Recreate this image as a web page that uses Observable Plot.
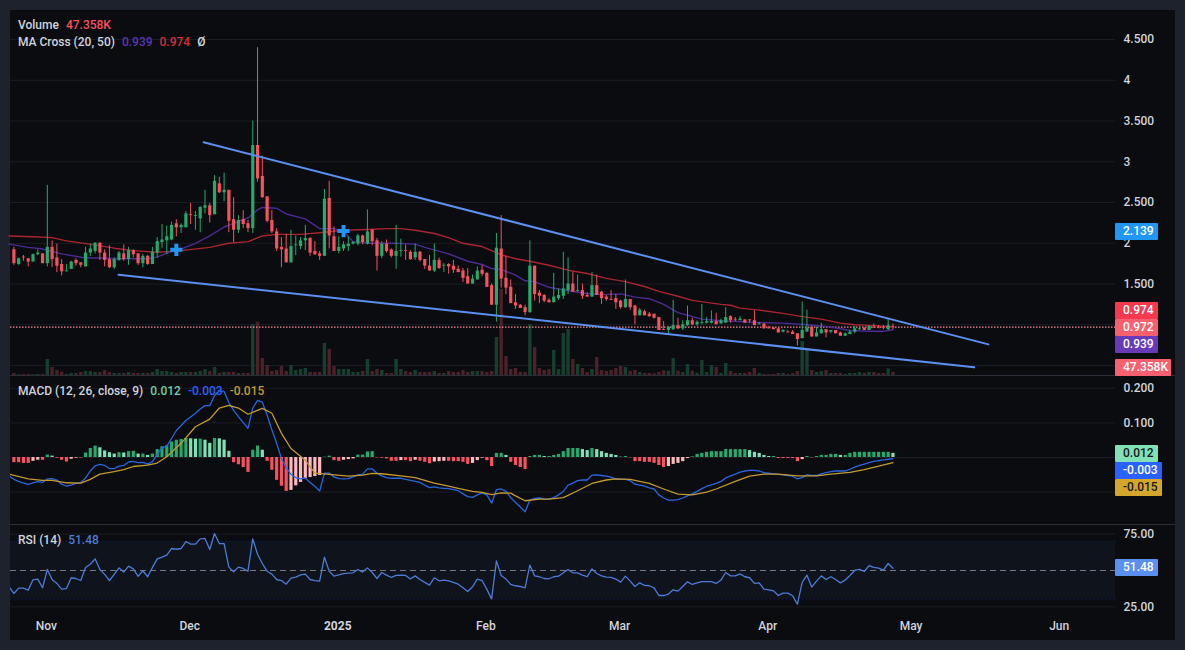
<!DOCTYPE html>
<html><head><meta charset="utf-8">
<script src="https://cdn.jsdelivr.net/npm/d3@7"></script>
<script src="https://cdn.jsdelivr.net/npm/@observablehq/plot@0.6"></script>
<style>
html,body{margin:0;padding:0;background:#1e222d;overflow:hidden}
#stage{position:absolute;left:0;top:0;width:1185px;height:650px;background:#1e222d;font-family:Roboto,"Noto Sans",sans-serif}
#inner{position:absolute;left:10px;top:10px;width:1165px;height:630px;background:#0a0c0f}
.sep{position:absolute;left:10px;width:1165px;height:1px;background:#2a2e39}
.leg{position:absolute;left:18px;font-size:12px;line-height:14px;color:#d1d4dc;white-space:pre;font-weight:500}
.pill{position:absolute;left:1115px;height:17px;line-height:17px;font-size:12px;font-weight:500;padding-left:8px;box-sizing:border-box;border-radius:1px}
</style></head><body>
<div id="stage"><div id="inner"></div></div>
<script>
// one candle per day, index 0 = 25 Oct 2024
const opens=[1.92,1.74,1.83,1.81,1.77,1.86,1.87,1.75,1.95,1.82,
1.74,1.65,1.68,1.79,1.76,1.71,1.88,1.90,2.00,1.88,
1.80,1.70,1.79,1.87,1.80,1.91,1.87,1.75,1.84,1.74,
1.88,2.01,2.03,2.04,2.24,2.19,2.19,2.35,2.33,2.30,
2.43,2.46,2.35,2.73,2.62,2.65,2.29,2.16,2.29,2.24,
2.18,3.20,2.82,2.57,2.28,2.14,1.95,1.93,1.76,1.97,
1.96,2.03,2.06,1.90,1.87,1.84,2.55,2.08,1.90,1.93,
1.96,1.99,1.99,2.09,1.99,2.16,2.03,1.84,1.99,1.92,
1.84,1.90,1.91,1.89,1.82,1.89,1.80,1.72,1.66,1.79,
1.72,1.74,1.72,1.68,1.66,1.59,1.50,1.55,1.67,1.63,
1.48,1.24,1.93,1.57,1.46,1.27,1.24,1.21,1.15,1.72,
1.39,1.36,1.30,1.27,1.32,1.35,1.42,1.50,1.41,1.42,
1.36,1.34,1.48,1.40,1.34,1.31,1.32,1.29,1.21,1.31,
1.23,1.11,1.16,1.13,1.13,1.09,0.94,0.93,0.94,0.99,
0.95,0.99,1.05,1.00,1.02,1.02,1.02,1.04,1.01,1.02,
1.10,1.06,1.05,1.06,1.06,1.05,1.00,1.01,0.96,0.96,
0.95,0.91,0.91,0.91,0.89,0.83,0.91,0.97,0.85,0.89,
0.94,0.91,0.93,0.90,0.86,0.88,0.91,0.94,0.96,0.93,
0.97,0.97,0.97,0.94,0.98];
const closes=[1.75,1.81,1.82,1.77,1.86,1.88,1.75,1.95,1.80,1.72,
1.65,1.66,1.77,1.75,1.73,1.88,1.93,2.00,1.88,1.79,
1.70,1.80,1.88,1.80,1.91,1.86,1.75,1.84,1.74,1.89,
2.02,2.04,2.08,2.22,2.19,2.22,2.36,2.34,2.34,2.44,
2.46,2.34,2.76,2.62,2.65,2.27,2.16,2.28,2.23,2.18,
3.20,2.79,2.56,2.27,2.14,1.93,1.92,1.76,1.96,1.98,
2.03,2.06,1.88,1.86,1.84,2.54,2.09,1.90,1.95,1.98,
1.99,2.01,2.09,2.01,2.14,2.02,1.84,1.99,1.90,1.84,
1.90,1.91,1.90,1.80,1.89,1.79,1.72,1.66,1.79,1.69,
1.73,1.71,1.67,1.64,1.57,1.50,1.56,1.66,1.62,1.46,
1.24,1.94,1.56,1.45,1.26,1.23,1.20,1.15,1.72,1.37,
1.35,1.29,1.27,1.34,1.36,1.44,1.50,1.40,1.42,1.35,
1.34,1.48,1.36,1.32,1.31,1.30,1.27,1.21,1.31,1.21,
1.11,1.18,1.11,1.10,1.08,0.93,0.93,0.97,0.99,0.95,
1.00,1.05,1.00,1.03,1.03,1.04,1.04,1.00,1.05,1.09,
1.05,1.05,1.07,1.02,1.05,0.99,1.01,0.95,0.95,0.94,
0.90,0.93,0.90,0.88,0.82,0.93,0.96,0.85,0.90,0.94,
0.90,0.93,0.89,0.86,0.89,0.91,0.95,0.95,0.93,0.98,
0.96,0.96,0.96,0.99,0.972];
const highs=[1.95,1.82,1.85,1.81,1.87,1.92,1.87,2.71,2.03,1.99,
1.80,1.74,1.78,1.81,1.76,1.95,1.99,2.01,2.01,1.92,
1.97,1.82,1.90,1.98,1.95,1.92,1.87,1.86,1.85,1.95,
2.07,2.23,2.21,2.26,2.29,2.24,2.39,2.49,2.39,2.45,
2.65,2.49,2.83,2.81,2.86,2.65,2.56,2.34,2.40,2.28,
3.50,4.40,3.07,2.57,2.40,2.18,2.07,2.11,2.16,2.09,
2.07,2.22,2.07,2.02,1.90,2.66,2.76,2.20,2.08,2.02,
2.08,2.02,2.11,2.10,2.41,2.17,2.06,2.02,2.04,1.93,
2.22,2.05,1.98,1.91,1.99,1.90,1.80,1.85,1.99,1.82,
1.75,1.75,1.79,1.72,1.69,1.69,1.61,1.71,1.73,1.64,
1.50,2.12,2.34,1.84,1.55,1.37,1.25,1.24,2.03,1.72,
1.42,1.37,1.32,1.63,1.44,1.89,1.82,1.64,1.61,1.50,
1.39,1.64,1.61,1.41,1.36,1.42,1.37,1.30,1.55,1.31,
1.24,1.20,1.18,1.15,1.13,1.09,1.04,0.98,1.30,1.08,
1.05,1.23,1.08,1.05,1.25,1.09,1.17,1.14,1.07,1.21,
1.11,1.09,1.10,1.06,1.06,1.17,1.03,1.01,0.98,0.96,
0.96,0.94,0.93,0.93,0.89,1.28,1.18,0.98,0.97,1.02,
0.94,0.93,0.93,0.91,0.90,0.93,0.98,0.98,0.96,0.99,
1.01,0.99,0.99,1.08,1.01];
const lows=[1.73,1.73,1.78,1.71,1.77,1.85,1.75,1.71,1.70,1.64,
1.60,1.65,1.68,1.72,1.70,1.71,1.84,1.87,1.79,1.71,
1.69,1.68,1.78,1.78,1.73,1.82,1.73,1.70,1.73,1.74,
1.82,1.94,1.86,2.03,2.08,2.12,2.19,2.23,2.16,2.13,
2.36,2.25,2.35,2.61,2.51,2.13,2.01,2.12,2.18,2.13,
2.12,2.75,2.55,2.25,2.12,1.90,1.70,1.76,1.76,1.85,
1.92,1.91,1.84,1.85,1.79,1.84,1.93,1.90,1.87,1.90,
1.90,1.98,1.97,1.98,1.98,1.97,1.66,1.81,1.88,1.82,
1.68,1.83,1.79,1.79,1.79,1.77,1.68,1.66,1.64,1.68,
1.64,1.62,1.63,1.64,1.52,1.50,1.50,1.55,1.59,1.46,
1.24,1.03,1.45,1.37,1.26,1.19,1.20,1.11,1.14,1.29,
1.26,1.27,1.27,1.27,1.30,1.31,1.37,1.40,1.40,1.31,
1.34,1.34,1.36,1.25,1.29,1.30,1.19,1.19,1.20,1.18,
1.00,1.11,1.11,1.09,1.07,0.93,0.93,0.87,0.93,0.94,
0.93,0.98,0.99,0.98,1.00,1.01,1.01,1.00,1.01,1.02,
1.02,1.04,1.05,1.02,1.02,0.99,1.00,0.95,0.95,0.94,
0.90,0.90,0.90,0.88,0.74,0.83,0.91,0.85,0.85,0.89,
0.84,0.89,0.89,0.86,0.86,0.88,0.89,0.93,0.93,0.93,
0.96,0.95,0.94,0.93,0.94];
// volume in thousands
const volumes=[29,10,14,14,10,14,14,229,114,72,48,14,29,29,43,57,57,43,43,72,43,29,29,29,43,29,29,29,29,43,
86,57,57,43,29,43,43,43,43,57,86,57,114,29,43,43,43,29,29,29,730,763,243,143,57,72,129,57,143,72,
86,100,43,43,43,458,372,129,86,86,86,43,43,57,229,57,86,72,29,29,229,86,57,43,72,43,43,43,57,29,
29,57,43,43,72,43,57,57,57,43,57,544,1230,272,86,100,43,43,730,401,100,72,86,358,86,601,658,229,157,100,
43,86,258,72,57,72,100,129,114,57,72,43,29,29,24,43,67,62,243,62,43,157,62,33,215,43,143,114,29,172,
57,29,29,29,43,100,29,14,14,14,29,29,14,29,57,487,382,72,43,57,72,29,29,29,14,29,29,43,29,43,
43,29,29,95,47.358];
// moving averages read at sampled days
const ma50Days=[-1,4,8,11,17,21,25,30,35,41,45,49,52,55,60,64,69,74,78,81,84,88,91,94,98,100,102,105,108,112,116,120,124,128,132,135,139,142,148,150,152,156,161,165,169,173,176,180,184];
const ma50=[2.09,2.08,2.07,2.03,1.98,1.94,1.91,1.89,1.91,1.95,2.00,2.02,2.09,2.11,2.11,2.13,2.16,2.17,2.18,2.18,2.16,2.12,2.07,2.00,1.96,1.91,1.86,1.81,1.78,1.73,1.67,1.63,1.57,1.53,1.47,1.41,1.35,1.30,1.25,1.24,1.205,1.18,1.14,1.10,1.07,1.02,1.00,0.99,0.974];
const ma20Days=[-1,3,6,10,15,18,22,25,28,30,32,35,38,41,44,47,49,51,52,55,57,61,64,67,69,71,74,77,80,84,86,91,95,98,100,102,105,107,109,112,114,119,123,127,130,133,136,139,144,148,155,161,166,170,175,179,182,184];
const ma20=[1.99,1.95,1.93,1.87,1.82,1.82,1.81,1.81,1.81,1.83,1.88,1.93,2.00,2.09,2.20,2.27,2.31,2.41,2.44,2.43,2.36,2.30,2.18,2.18,2.15,2.02,2.00,2.00,2.00,1.99,1.95,1.87,1.78,1.74,1.69,1.68,1.61,1.54,1.53,1.46,1.44,1.39,1.37,1.38,1.34,1.32,1.25,1.15,1.07,1.05,1.03,1.02,1.00,0.98,0.93,0.92,0.92,0.939];
// falling wedge trend lines and MA crosses
const upperDays=[39.7,204], upperPrices=[3.24,0.76];
const lowerDays=[21.9,201], lowerPrices=[1.615,0.478];
const crossDays=[34,69], crossPrices=[1.92,2.15];
// MACD
const macdHist=[-.015,-.015,-.017,-.017,-.011,-.008,-.008,.007,.004,-.002,-.008,-.013,-.005,-.002,-.001,.013,.026,.033,.028,.019,
.014,.010,.014,.013,.017,.018,.010,.010,.006,.010,.023,.031,.034,.045,.050,.052,.055,.054,.053,.053,
.050,.041,.055,.054,.050,.018,-.015,-.021,-.029,-.043,.021,.033,.021,-.011,-.037,-.066,-.083,-.098,-.095,-.082,
-.072,-.062,-.058,-.055,-.052,.001,.004,-.009,-.011,-.008,-.006,-.004,.007,.007,.016,.017,-.001,-.002,-.004,-.011,
-.011,-.009,-.009,-.012,-.008,-.011,-.014,-.018,-.013,-.012,-.011,-.011,-.012,-.012,-.014,-.020,-.017,-.009,-.002,-.009,
-.026,.012,.012,.006,-.014,-.023,-.029,-.035,.003,.006,.006,.003,.003,.006,.009,.017,.026,.026,.026,.023,
.020,.026,.023,.017,.012,.009,.006,.001,.003,-.001,-.012,-.012,-.014,-.014,-.017,-.023,-.029,-.026,-.020,-.017,
-.012,-.003,.002,.009,.012,.015,.017,.017,.017,.023,.023,.023,.023,.023,.020,.015,.012,.006,.003,.003,
-.003,-.003,-.003,-.003,-.012,-.006,.003,-.001,.003,.006,.006,.009,.009,.006,.006,.012,.015,.015,.015,.015,
.015,.015,.015,.015,.012];
const macdStart=-1;
const macdLine=[-.054,-.063,-.069,-.074,-.078,-.073,-.070,-.072,-.062,-.061,-.065,-.077,-.083,-.080,-.075,-.073,-.059,-.039,-.024,-.020,
-.023,-.032,-.032,-.025,-.023,-.013,-.011,-.015,-.014,-.019,-.012,.008,.028,.033,.055,.078,.092,.107,.117,.128,
.140,.150,.150,.179,.193,.191,.159,.136,.118,.101,.084,.143,.165,.160,.123,.080,.041,-.003,-.029,-.049,
-.058,-.062,-.059,-.072,-.083,-.097,-.045,-.045,-.056,-.061,-.062,-.061,-.056,-.050,-.048,-.033,-.033,-.045,-.053,-.058,
-.060,-.060,-.060,-.063,-.066,-.069,-.072,-.080,-.087,-.085,-.088,-.089,-.090,
-.093,-.096,-.105,-.113,-.115,-.108,-.102,-.108,-.132,-.093,-.091,-.098,-.116,-.130,-.143,-.157,-.123,-.118,-.117,-.120,
-.120,-.116,-.108,-.098,-.080,-.074,-.067,-.065,-.065,-.051,-.050,-.052,-.054,-.057,-.062,-.063,-.063,-.067,-.077,-.080,
-.083,-.088,-.091,-.108,-.117,-.123,-.123,-.122,-.117,-.111,-.105,-.098,-.090,-.083,-.079,-.075,-.069,-.059,-.053,-.048,
-.042,-.039,-.037,-.037,-.039,-.044,-.045,-.047,-.049,-.050,-.052,-.054,-.062,-.058,-.050,-.052,-.052,-.047,-.044,-.041,
-.039,-.039,-.039,-.034,-.028,-.023,-.019,-.015,-.011,-.009,-.007,-.005,-.003];
const signalDays=[-1,3,6,8,11,14,16,18,21,23,25,28,30,32,35,38,41,43,45,47,49,52,54,56,58,61,63,66,70,73,75,77,81,84,88,91,93,96,98,100,102,104,105,107,110,112,115,118,121,124,126,129,133,136,139,142,145,147,151,154,157,160,164,168,171,175,178,181,184];
const signalLine=[-.048,-.062,-.066,-.066,-.073,-.074,-.063,-.048,-.041,-.035,-.026,-.022,-.016,.002,.041,.089,.111,.143,.151,.143,.125,.142,.128,.070,.026,-.008,-.045,-.049,-.054,-.051,-.046,-.047,-.053,-.058,-.074,-.083,-.089,-.098,-.101,-.107,-.102,-.103,-.111,-.125,-.120,-.120,-.116,-.096,-.075,-.065,-.062,-.063,-.075,-.091,-.106,-.108,-.100,-.091,-.069,-.054,-.048,-.048,-.053,-.053,-.048,-.043,-.035,-.025,-.015];
// RSI
const rsiStart=-1;
const rsi=[38.8,34.2,37.9,37.9,36.5,43.6,44.1,38.1,50.7,43.8,41.1,37.2,37.6,45.0,44.5,43.1,52.1,54.3,58.0,50.7,47.3,43.1,47.3,51.8,48.9,53.0,51.1,45.9,49.8,45.7,52.1,58.0,59.2,60.5,65.1,64.6,65.1,69.9,68.1,68.1,71.7,72.0,64.4,75.4,68.5,68.5,52.3,49.1,52.3,51.4,49.5,71.7,61.2,54.8,49.5,47.5,43.8,43.1,40.6,44.7,45.4,47.0,47.5,43.8,43.1,42.7,59.2,49.5,46.1,47.0,47.9,48.2,48.4,50.7,48.9,51.8,48.6,44.5,48.6,46.8,45.2,46.6,46.8,46.6,44.1,46.3,43.8,41.8,39.9,45.0,42.9,43.4,42.9,
41.8,40.6,38.1,35.6,38.8,44.1,43.1,37.0,30.5,56.6,46.6,44.1,40.4,39.5,39.0,38.1,53.7,46.3,45.7,44.5,44.3,45.7,46.1,48.4,50.7,48.4,48.4,46.8,45.7,51.1,47.9,46.3,45.4,45.2,44.1,42.0,46.1,42.7,39.0,41.5,39.7,39.5,38.1,32.8,32.8,33.8,36.7,35.8,39.0,42.2,40.4,41.5,42.4,42.4,42.4,41.1,43.4,48.6,46.3,46.3,47.7,45.7,45.0,41.1,41.5,37.2,36.7,36.0,32.8,34.4,34.4,32.6,26.9,41.8,46.8,38.6,42.7,46.3,43.8,45.7,43.8,41.5,43.4,46.6,50.0,50.7,49.3,53.4,52.1,51.6,50.2,54.8,51.48];
// axes
const priceTicks=[4.5,4,3.5,3,2.5,2,1.5];
const priceGrid=[4.5,4,3.5,3,2.5,2,1.5,1,0.5];
const lastPrice=0.972;
const macdTicks=[0.2,0.1];
const macdGrid=[0.2,0.1,0,-0.1];
const rsiTicks=[75,25];
const monthDates=["2024-11-01","2024-12-01","2025-02-01","2025-03-01","2025-04-01","2025-05-01","2025-06-01"];
const monthLabels=["Nov","Dec","Feb","Mar","Apr","May","Jun"];
const yearDates=["2025-01-01"], yearLabels=["2025"];

const day=i=>new Date(Date.UTC(2024,9,25)+i*864e5);
const candles=opens.map((o,i)=>({date:day(i),open:o,close:closes[i],high:highs[i],low:lows[i],vol:volumes[i]}));
const pairs=(ds,vs)=>ds.map((d,i)=>({date:day(d),v:vs[i]}));
const series=(start,vs)=>vs.map((v,i)=>({date:day(start+i),v}));
const hist=macdHist.map((v,i)=>({date:day(i),v,prev:i?macdHist[i-1]:v}));

const GREEN="#26a96c",RED="#f7525f",GRID="#1a1d23",TXT="#d1d4dc",FONT='Roboto,"Noto Sans",sans-serif';
const xDomain=[new Date("2024-10-24T07:00Z"),new Date("2025-06-12T14:00Z")];
const stage=document.getElementById("stage");
function panel(top,height,yDomain,marks,bottom=0){
  const svg=Plot.plot({width:1185,height,marginLeft:10,marginRight:70,marginTop:0,marginBottom:bottom,
    x:{type:"utc",domain:xDomain,axis:null},
    y:{domain:yDomain,axis:null},
    style:{position:"absolute",left:"0px",top:top+"px",background:"transparent",color:TXT,fontSize:"12px",fontWeight:500,fontFamily:FONT,overflow:"visible"},
    marks});
  stage.appendChild(svg);
  return svg;
}
const isUp=d=>d.close>=d.open;
const yAxis=(ticks,fmt)=>Plot.axisY(ticks,{anchor:"right",tickSize:0,tickPadding:8,tickFormat:fmt,label:null,fill:TXT});

// price panel spans y 10..375
const priceDomain=[0.378,4.856];
const fmtPrice=v=>Number.isInteger(v)?String(v):v.toFixed(3);
// volume layer has its own scale, drawn under the candles
panel(10,365,priceDomain,[Plot.ruleY(priceGrid,{stroke:GRID})]);
panel(10,365,[0,5220],[
  Plot.ruleX(candles,{x:"date",y1:0,y2:"vol",stroke:d=>isUp(d)?"#173f30":"#4b2229",strokeWidth:3.4})
]);
const pricePlot=panel(10,365,priceDomain,[
  Plot.ruleY([lastPrice],{stroke:"#f98a94",strokeDasharray:"1.5 1.5",strokeWidth:1.1}),
  Plot.line(pairs(ma50Days,ma50),{x:"date",y:"v",stroke:"#a92532",strokeWidth:1.4}),
  Plot.line(pairs(ma20Days,ma20),{x:"date",y:"v",stroke:"#4c2b95",strokeWidth:1.4}),
  Plot.ruleX(candles,{x:"date",y1:"low",y2:"high",stroke:d=>isUp(d)?GREEN:RED,strokeWidth:1}),
  Plot.ruleX(candles,{x:"date",y1:"open",y2:"close",stroke:d=>isUp(d)?GREEN:RED,strokeWidth:3.2}),
  Plot.line(pairs(upperDays,upperPrices),{x:"date",y:"v",stroke:"#5b8ff0",strokeWidth:2}),
  Plot.line(pairs(lowerDays,lowerPrices),{x:"date",y:"v",stroke:"#5b8ff0",strokeWidth:2}),
  Plot.dot(pairs(crossDays,crossPrices),{x:"date",y:"v",symbol:"plus",r:4,stroke:"#2196f3",strokeWidth:4}),
  yAxis(priceTicks,fmtPrice)
]);

// MACD panel spans y 376..524
const histColor=d=>d.v>=0?(d.v>=d.prev?"#26a96c":"#82e0b6"):(d.v<=d.prev?"#f7525f":"#ffb8be");
panel(376,148,[-0.1936,0.2341],[
  Plot.ruleY(macdGrid,{stroke:GRID}),
  Plot.ruleX(hist,{x:"date",y1:0,y2:"v",stroke:histColor,strokeWidth:3.2}),
  Plot.line(series(macdStart,macdLine),{x:"date",y:"v",stroke:"#2a66e0",strokeWidth:1.3,clip:true}),
  Plot.line(pairs(signalDays,signalLine),{x:"date",y:"v",stroke:"#c49a30",strokeWidth:1.3,clip:true}),
  yAxis(macdTicks,d=>d.toFixed(3))
]);

// RSI panel spans y 524..610, with the time axis below it
panel(524,116,[22.5,81.6],[
  Plot.ruleY(rsiTicks,{stroke:GRID}),
  Plot.rect([0],{x1:()=>xDomain[0],x2:()=>xDomain[1],y1:()=>30,y2:()=>70,fill:"#0f131c"}),
  Plot.ruleY([30,70],{stroke:"#1e2146",strokeDasharray:"1 3"}),
  Plot.ruleY([50],{stroke:"#787b86",strokeDasharray:"6 4"}),
  Plot.line(series(rsiStart,rsi),{x:"date",y:"v",stroke:"#4d7bd6",strokeWidth:1.3,clip:true}),
  yAxis(rsiTicks,d=>d.toFixed(2)),
  Plot.axisX(monthDates.map(d=>new Date(d)),{anchor:"bottom",tickSize:0,tickPadding:11,dx:-1,fill:TXT,label:null,tickFormat:(d,i)=>monthLabels[i]}),
  Plot.axisX(yearDates.map(d=>new Date(d)),{anchor:"bottom",tickSize:0,tickPadding:11,dx:-1,fill:TXT,label:null,fontWeight:"bold",tickFormat:(d,i)=>yearLabels[i]})
],30);

// separators
for(const y of [375,524]){const s=document.createElement("div");s.className="sep";s.style.top=y+"px";stage.appendChild(s);}

function pill(text,top,bg,fg,w){
  const p=document.createElement("div");p.className="pill";p.textContent=text;
  p.style.top=top+"px";p.style.background=bg;p.style.color=fg;p.style.width=w+"px";stage.appendChild(p);
}
pill("2.139",223,"#2196f3","#fff",43);
pill("0.974",302,"#f7394f","#fff",43);
pill("0.972",319,"#f7606f","#fff",43);
pill("0.939",336,"#673ab7","#fff",43);
pill("47.358K",359,"#f7606f","#fff",56);
pill("0.012",445,"#82e0b6","#131722",43);
pill("-0.003",462,"#2962ff","#fff",47);
pill("-0.015",479,"#d4a72c","#131722",47);
pill("51.48",559,"#5b8ff0","#fff",43);

function legend(top,parts){
  const l=document.createElement("div");l.className="leg";l.style.top=top+"px";
  parts.forEach(([t,c],i)=>{const s=document.createElement("span");s.textContent=t;if(c)s.style.color=c;if(i)s.style.marginLeft="7px";l.appendChild(s);});
  stage.appendChild(l);
}
legend(18,[["Volume"],["47.358K","#f7525f"]]);
legend(35,[["MA Cross (20, 50)"],["0.939","#5b36b5"],["0.974","#d32f3f"],["Ø"]]);
legend(384,[["MACD (12, 26, close, 9)"],["0.012","#6fcfa5"],["-0.003","#2962ff"],["-0.015","#c49a30"]]);
legend(533,[["RSI (14)"],["51.48","#4d7bd6"]]);
</script>
</body></html>
